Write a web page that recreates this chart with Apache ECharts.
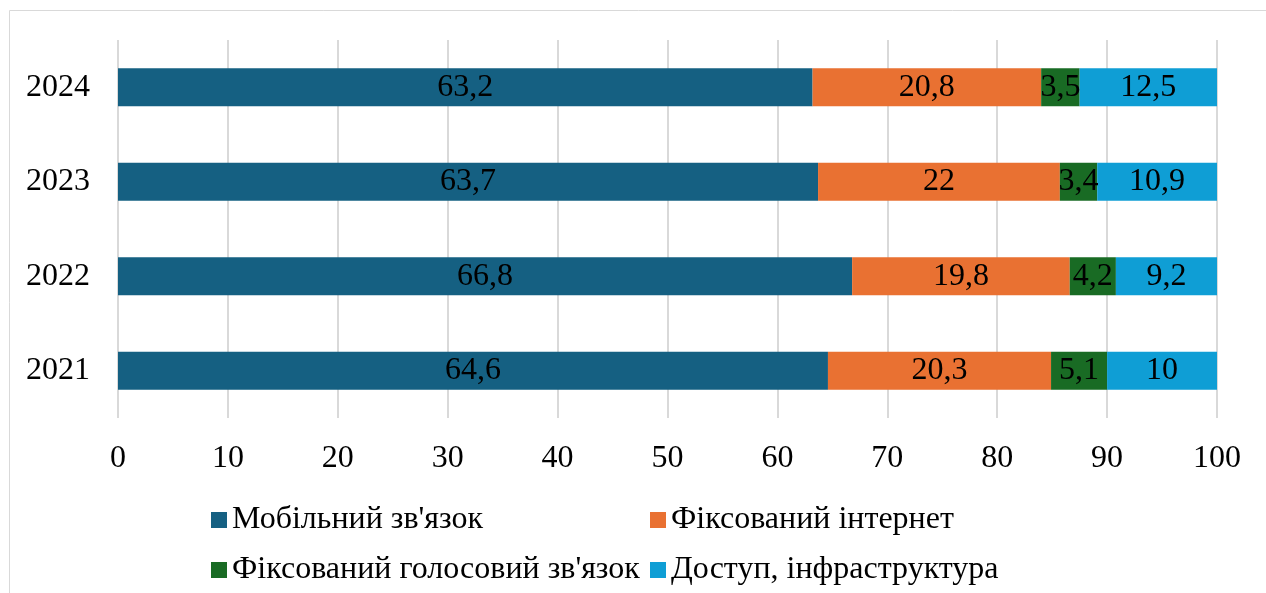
<!DOCTYPE html>
<html lang="uk">

<head>
    <meta charset="UTF-8">
    <title>Структура доходів</title>
    <script src="https://cdn.jsdelivr.net/npm/echarts@6.0.0/dist/echarts.min.js"></script>
    <style>
        html, body { margin: 0; padding: 0; background: #fff; }
    </style>
</head>

<body>
    <div id="main" style="width: 1266px; height: 593px;"></div>

    <script type="text/javascript">
        // Data (bottom to top)
        const years = ['2021', '2022', '2023', '2024'];
        const mobile = [64.6, 66.8, 63.7, 63.2];
        const fixedNet = [20.3, 19.8, 22, 20.8];
        const fixedVoice = [5.1, 4.2, 3.4, 3.5];
        const access = [10, 9.2, 10.9, 12.5];

        const seriesNames = ['Мобільний зв\'язок', 'Фіксований інтернет', 'Фіксований голосовий зв\'язок', 'Доступ, інфраструктура'];
        const seriesColors = ['#156082', '#E97132', '#196B24', '#0F9ED5'];
        const seriesData = [mobile, fixedNet, fixedVoice, access];

        const font = 'Liberation Serif';
        const fontSize = 32;

        let myChart = echarts.init(document.getElementById('main'));

        // one legend per item, so the two columns line up like the original
        const legendPos = [[211, 504], [650, 504], [211, 554], [650, 554]];
        let legends = seriesNames.map((name, i) => ({
            data: [name],
            left: legendPos[i][0],
            top: legendPos[i][1],
            padding: 0,
            itemWidth: 16,
            itemHeight: 16,
            icon: 'rect',
            textStyle: { fontFamily: font, fontSize: fontSize, color: '#000' }
        }));

        let options = {
            animation: false,
            textStyle: { fontFamily: font },
            graphic: [{
                type: 'rect',
                shape: { x: 9.5, y: 10.5, width: 1400, height: 700 },
                style: { fill: 'none', stroke: '#d9d9d9', lineWidth: 1 },
                silent: true
            }],
            legend: legends,
            grid: {
                left: 118,
                right: 49,
                top: 40,
                bottom: 175
            },
            xAxis: {
                type: 'value',
                min: 0,
                max: 100,
                interval: 10,
                axisLine: { show: false },
                axisTick: { show: false },
                axisLabel: { fontSize: fontSize, color: '#000', margin: 25, fontFamily: font },
                splitLine: { lineStyle: { color: '#d9d9d9', width: 2 } }
            },
            yAxis: {
                type: 'category',
                data: years,
                axisLine: { show: false },
                axisTick: { show: false },
                axisLabel: { fontSize: fontSize, color: '#000', margin: 28, fontFamily: font }
            },
            series: seriesNames.map((name, i) => ({
                name: name,
                type: 'bar',
                stack: 'total',
                barWidth: 38,
                data: seriesData[i],
                itemStyle: { color: seriesColors[i] },
                label: {
                    show: true,
                    position: 'inside',
                    color: '#000',
                    fontSize: fontSize,
                    fontFamily: font,
                    formatter: p => String(p.value).replace('.', ',')
                }
            }))
        };

        myChart.setOption(options);
    </script>
</body>

</html>
